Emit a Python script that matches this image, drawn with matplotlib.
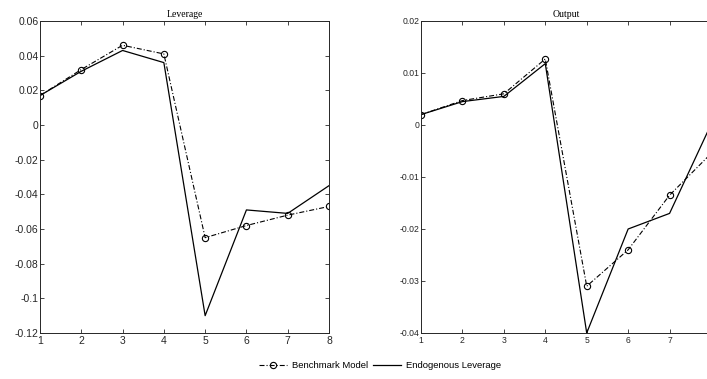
import matplotlib
matplotlib.use('Agg')
import matplotlib.pyplot as plt
from matplotlib.lines import Line2D

# horizon (periods)
periods = [1, 2, 3, 4, 5, 6, 7, 8]

# Leverage panel
lev_benchmark = [0.017, 0.032, 0.046, 0.041, -0.065, -0.058, -0.052, -0.047]
lev_endogenous = [0.017, 0.031, 0.043, 0.036, -0.110, -0.049, -0.051, -0.035]

# Output panel
out_benchmark = [0.002, 0.0047, 0.006, 0.0127, -0.031, -0.024, -0.0135, -0.0055]
out_endogenous = [0.002, 0.0045, 0.0055, 0.0118, -0.040, -0.020, -0.017, 0.0001]

lev_yticks = [0.06, 0.04, 0.02, 0, -0.02, -0.04, -0.06, -0.08, -0.1, -0.12]
lev_ylabels = ['0.06', '0.04', '0.02', '0', '-0.02', '-0.04', '-0.06', '-0.08', '-0.1', '-0.12']
out_yticks = [0.02, 0.01, 0, -0.01, -0.02, -0.03, -0.04]
out_ylabels = ['0.02', '0.01', '0', '-0.01', '-0.02', '-0.03', '-0.04']
lev_xlabels = ['1', '2', '3', '4', '5', '6', '7', '8']
out_xlabels = ['1', '2', '3', '4', '5', '6', '7', '']  # 8 falls off the picture

W, H = 707, 379
fig = plt.figure(figsize=(W / 100, H / 100), dpi=100)

dashdot = (0, (4.5, 1.8, 1, 1.8))
tick_font = 'Liberation Sans'
title_font = 'Liberation Serif'


def panel(rect, bench, endo, title, xlabels, yticks, ylabels, ylim, fsize, tsize):
    ax = fig.add_axes(rect)
    ax.plot(periods, bench, color='black', lw=0.8, linestyle=dashdot,
            marker='o', markersize=4.5, markerfacecolor='none', markeredgewidth=0.8)
    ax.plot(periods, endo, color='black', lw=0.9, linestyle='-')
    ax.set_xlim(1, 8)
    ax.set_ylim(*ylim)
    ax.set_xticks(periods)
    ax.set_xticklabels(xlabels, fontsize=fsize, family=tick_font, color='#262626')
    ax.set_yticks(yticks)
    ax.set_yticklabels(ylabels, fontsize=fsize, family=tick_font, color='#262626')
    ax.tick_params(direction='in', top=True, right=True, length=3, width=0.6, pad=2, colors='#262626')
    ax.tick_params(axis='y', pad=1)
    for s in ax.spines.values():
        s.set_linewidth(0.7)
        s.set_color('#262626')
    ax.set_title(title, fontsize=tsize, family=title_font, pad=3)
    return ax


# Left panel: Leverage
l0, r0 = 40 / W, 329 / W
b0, t0 = 1 - 333 / H, 1 - 21 / H
panel([l0, b0, r0 - l0, t0 - b0], lev_benchmark, lev_endogenous, 'Leverage',
      lev_xlabels, lev_yticks, lev_ylabels, (-0.12, 0.06), 7.5, 7)

# Right panel: Output (runs past the right edge of the picture)
l1, r1 = 421 / W, 711 / W
panel([l1, b0, r1 - l1, t0 - b0], out_benchmark, out_endogenous, 'Output',
      out_xlabels, out_yticks, out_ylabels, (-0.04, 0.02), 6.2, 7)

handles = [
    Line2D([], [], color='black', lw=0.8, linestyle=dashdot, marker='o', markersize=4.5,
           markerfacecolor='none', markeredgewidth=0.8),
    Line2D([], [], color='black', lw=0.9, linestyle='-'),
]
fig.legend(handles, ['Benchmark Model', 'Endogenous Leverage'], loc='center',
           bbox_to_anchor=(380 / W, 1 - 366 / H), ncol=2, frameon=False,
           prop={'family': tick_font, 'size': 6.8}, handlelength=3.0, columnspacing=0.5,
           handletextpad=0.5)

fig.savefig('out.png', dpi=100)
